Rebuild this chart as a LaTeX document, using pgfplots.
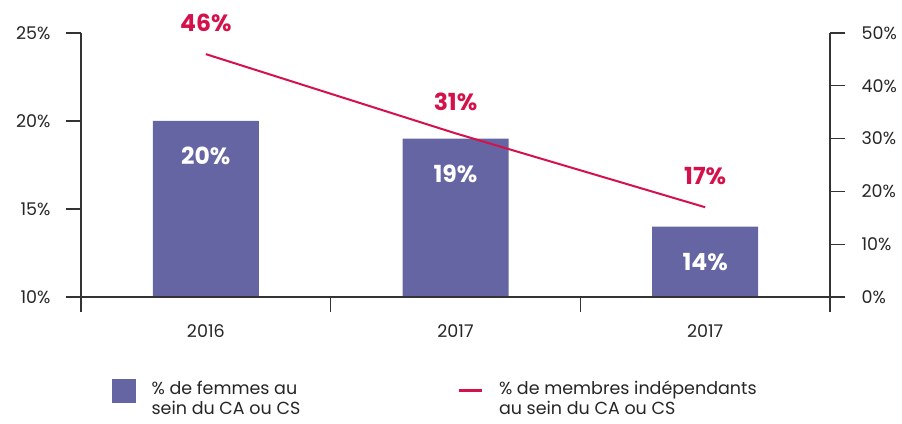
\documentclass[border=0pt]{standalone}
\usepackage{pgfplots}
\pgfplotsset{compat=1.18}
\usepackage{fontspec}
\setmainfont{Poppins}
\definecolor{barc}{HTML}{6665A3}
\definecolor{linec}{HTML}{D4114A}
\definecolor{axc}{HTML}{333333}

\begin{document}
\begin{tikzpicture}[font=\fontsize{17.5}{20}\selectfont]
\pgfplotsset{
  base/.style={
    scale only axis, width=749pt, height=264pt,
    xmin=-0.5, xmax=2.5,
    /pgf/number format/assume math mode=true,
    axis line style={axc, line width=1.2pt},
    tick style={axc, line width=1.2pt},
    tick align=outside, major tick length=15pt,
    ticklabel style={font=\fontsize{17.5}{20}\selectfont, text=black!85},
  }
}
% left axis: bars
\begin{axis}[base,
  axis x line*=bottom, axis y line*=left,
  ymin=10, ymax=25, ytick={10,15,20,25},
  yticklabel={\pgfmathprintnumber{\tick}\%},
  yticklabel style={xshift=-12pt},
  xtick={-0.5,0.5,1.5,2.5}, xticklabels={},
  extra x ticks={0,1,2}, extra x tick labels={2016,2017,2017},
  extra x tick style={major tick length=0pt, tick style={draw=none},
    ticklabel style={yshift=-24pt}},
]
\addplot[ybar, bar width=106pt, fill=barc, draw=none,
  nodes near coords={\pgfmathprintnumber{\pgfplotspointmeta}\%},
  every node near coord/.append style={font=\fontsize{23.5}{26}\selectfont\bfseries,
    text=white, anchor=center, yshift=-35pt}]
  coordinates {(0,20) (1,19) (2,14)};
\coordinate (O) at (rel axis cs:0,0);
\coordinate (E) at (rel axis cs:1,0);
\end{axis}
% right axis: line
\begin{axis}[base,
  axis x line=none, axis y line*=right,
  ymin=0, ymax=50, ytick={0,10,...,50},
  yticklabel={\pgfmathprintnumber{\tick}\%},
  yticklabel style={xshift=13pt},
  legend columns=2,
  legend style={at={(axis description cs:0.0414,-0.3076)}, anchor=north west,
    draw=none, inner sep=0pt, font=\fontsize{17.5}{20}\selectfont,
    cells={inner sep=0pt, text=black!85},
    /tikz/every odd column/.append style={column sep=14pt},
    /tikz/every even column/.append style={column sep=14pt}},
]
\addlegendimage{legend image code/.code={\fill[barc] (0pt,-8.5pt) rectangle (23pt,14.5pt);}}
\addlegendentry{\begin{tabular}{@{}p{290pt}@{}}\% de femmes au\\sein du CA ou CS\end{tabular}}
\addlegendimage{legend image code/.code={\draw[linec, line width=2.4pt] (0pt,3pt) -- (23pt,3pt);}}
\addlegendentry{\begin{tabular}{@{}l@{}}\% de membres indépendants\\au sein du CA ou CS\end{tabular}}
\addplot[forget plot, linec, line width=2pt, mark=none,
  nodes near coords={\pgfmathprintnumber{\pgfplotspointmeta}\%},
  every node near coord/.append style={font=\fontsize{23.5}{26}\selectfont\bfseries,
    text=linec, anchor=center, yshift=31pt}]
  coordinates {(0,46) (1,31) (2,17)};
\end{axis}
\draw[axc, line width=1.2pt] ([xshift=-15pt]O) -- ([xshift=15pt]E);
\pgfresetboundingbox
\path[use as bounding box] (O) ++(-81pt,264pt+33pt) rectangle ++(902pt,-423pt);
\end{tikzpicture}
\end{document}
